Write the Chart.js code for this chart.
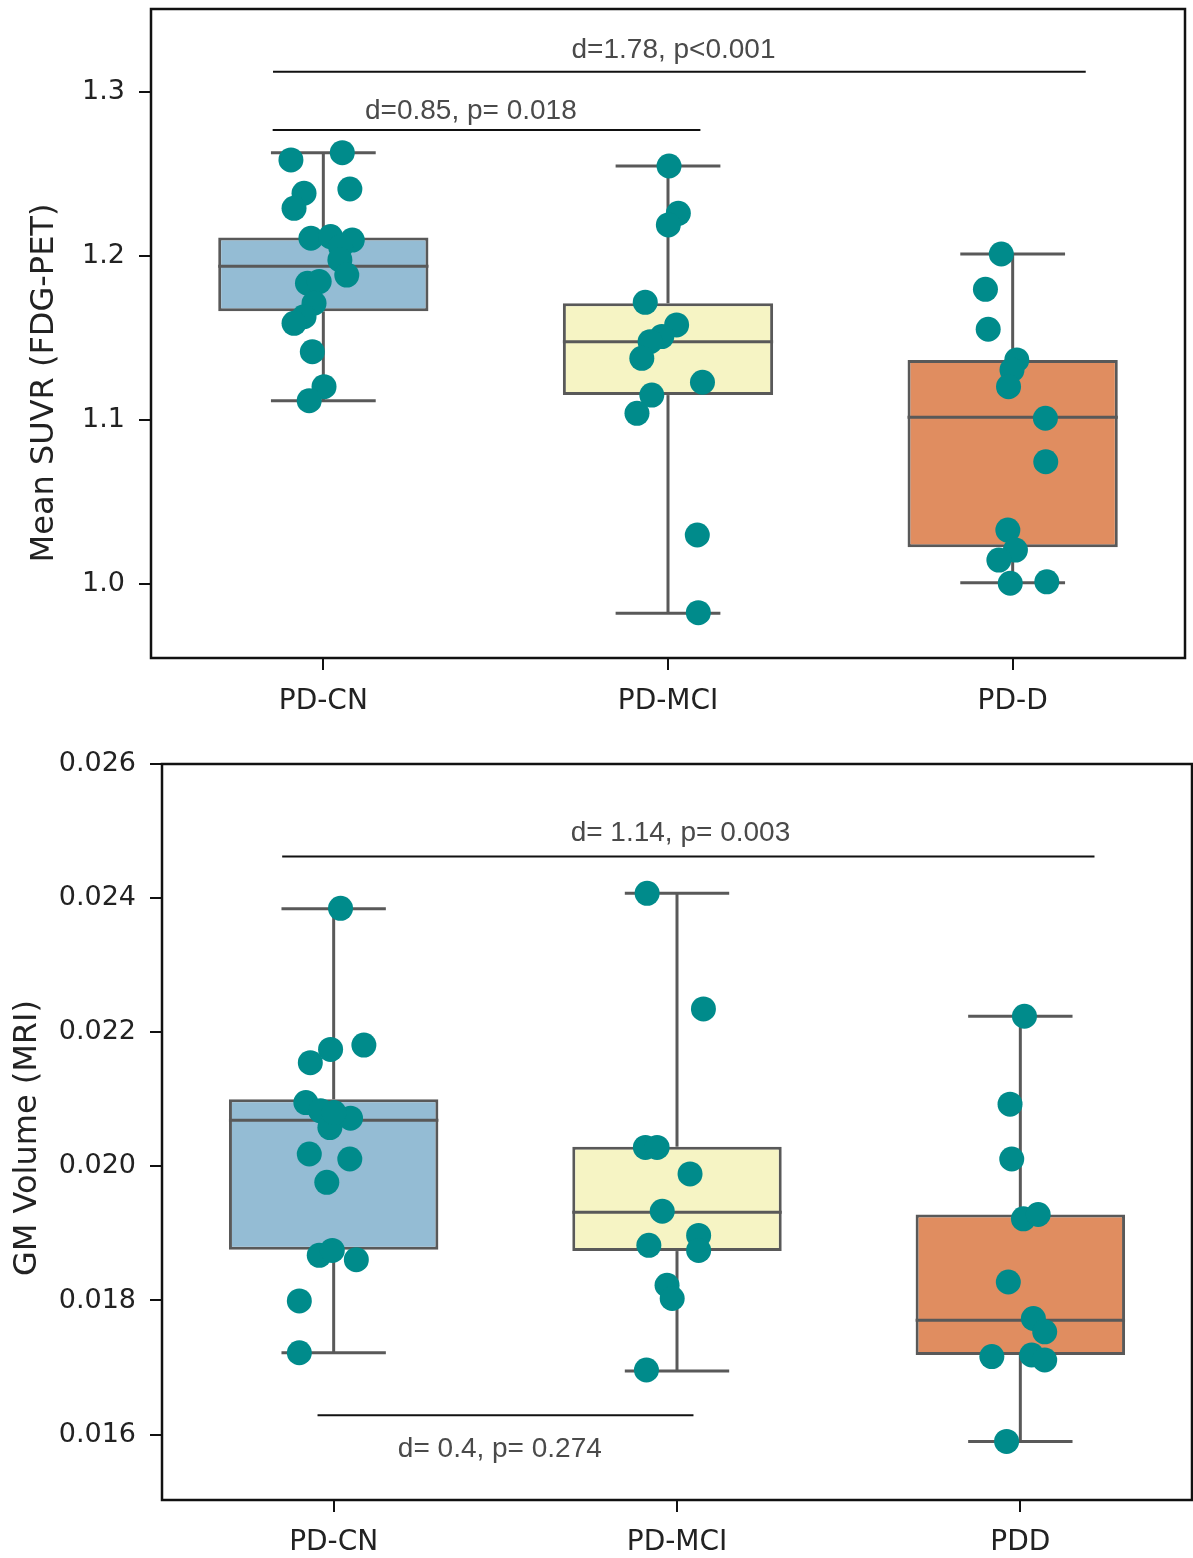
<!DOCTYPE html>
<html><head><meta charset="utf-8">
<script src="https://cdn.jsdelivr.net/npm/chart.js@4.4.1/dist/chart.umd.min.js"></script>
<style>
html,body{margin:0;padding:0;background:#fff;}
#c1{position:absolute;left:0;top:0;}
#c2{position:absolute;left:0;top:730px;}
</style></head><body>
<canvas id="c1" width="1193" height="730"></canvas>
<canvas id="c2" width="1193" height="828"></canvas>
<script>
// ---------- Top panel data (Mean SUVR, FDG-PET) ----------
const fdgGroups = ['PD-CN', 'PD-MCI', 'PD-D'];
const fdgTicks = [1.0, 1.1, 1.2, 1.3];
const fdgTickLabels = ['1.0', '1.1', '1.2', '1.3'];
const fdgLow = [1.1118, 0.9824, 1.0010];
const fdgQ1 = [1.1663, 1.1153, 1.0226];
const fdgMedian = [1.1937, 1.1478, 1.1018];
const fdgQ3 = [1.2113, 1.1712, 1.1367];
const fdgHigh = [1.2628, 1.2548, 1.2012];
const fdgCN = [1.2585, 1.2629, 1.2408, 1.2382, 1.2290, 1.2108, 1.2118, 1.2097, 1.2057, 1.1976, 1.1884, 1.1834, 1.1844, 1.1712, 1.1630, 1.1590, 1.1417, 1.1204, 1.1119];
const fdgCNJitter = [-0.094, 0.055, 0.077, -0.056, -0.085, -0.036, 0.021, 0.084, 0.050, 0.048, 0.068, -0.046, -0.012, -0.027, -0.056, -0.085, -0.032, 0.002, -0.041];
const fdgMCI = [1.2548, 1.2260, 1.2189, 1.1718, 1.1580, 1.1509, 1.1478, 1.1377, 1.1231, 1.1153, 1.1042, 1.0301, 0.9828];
const fdgMCIJitter = [0.003, 0.030, 0.001, -0.066, 0.025, -0.018, -0.052, -0.076, 0.100, -0.047, -0.090, 0.085, 0.088];
const fdgD = [1.2012, 1.1797, 1.1554, 1.1367, 1.1306, 1.1204, 1.1012, 1.0747, 1.0331, 1.0209, 1.0148, 1.0007, 1.0016];
const fdgDJitter = [-0.033, -0.079, -0.071, 0.012, -0.002, -0.012, 0.095, 0.096, -0.014, 0.008, -0.040, -0.007, 0.099];
const fdgBracketText = ['d=1.78, p<0.001', 'd=0.85, p= 0.018'];
const fdgBracketFrom = [-0.146, -0.147];
const fdgBracketTo = [2.212, 1.094];
const fdgBracketLevel = [1.3122, 1.2767];
const fdgTextX = [1.016, 0.428];
const fdgTextLevel = [1.3204, 1.2837];

// ---------- Bottom panel data (GM Volume, MRI) ----------
const gmGroups = ['PD-CN', 'PD-MCI', 'PDD'];
const gmTicks = [0.016, 0.018, 0.020, 0.022, 0.024, 0.026];
const gmTickLabels = ['0.016', '0.018', '0.020', '0.022', '0.024', '0.026'];
const gmLow = [0.017221, 0.016950, 0.015899];
const gmQ1 = [0.018758, 0.018737, 0.017187];
const gmMedian = [0.020689, 0.019316, 0.017707];
const gmQ3 = [0.021000, 0.020293, 0.019282];
const gmHigh = [0.023840, 0.024071, 0.022239];
const gmCN = [0.023848, 0.021744, 0.021546, 0.021808, 0.020951, 0.020828, 0.020719, 0.020579, 0.020184, 0.020110, 0.019762, 0.018673, 0.018747, 0.018609, 0.017994, 0.017221, 0.020802];
const gmCNJitter = [0.020, -0.009, -0.068, 0.088, -0.081, -0.038, 0.049, -0.011, -0.071, 0.047, -0.020, -0.042, -0.004, 0.066, -0.100, -0.100, 0.001];
const gmMCI = [0.024071, 0.022348, 0.020282, 0.020282, 0.019887, 0.019331, 0.018822, 0.018970, 0.018747, 0.018227, 0.018030, 0.016964];
const gmMCIJitter = [-0.087, 0.077, -0.092, -0.058, 0.038, -0.043, -0.082, 0.063, 0.063, -0.029, -0.014, -0.089];
const gmD = [0.022239, 0.020927, 0.020110, 0.019218, 0.019282, 0.018276, 0.017732, 0.017533, 0.017163, 0.017187, 0.017113, 0.015899];
const gmDJitter = [0.012, -0.030, -0.025, 0.009, 0.052, -0.035, 0.038, 0.071, -0.083, 0.033, 0.071, -0.040];
const gmBracketText = ['d= 1.14, p= 0.003', 'd= 0.4, p= 0.274'];
const gmBracketFrom = [-0.150, -0.047];
const gmBracketTo = [2.216, 1.048];
const gmBracketLevel = [0.02462, 0.016288];
const gmTextX = [1.010, 0.484];
const gmTextLevel = [0.024854, 0.015671];

// ---------- Styles ----------
const BOX_COLORS = ['#94bcd4', '#f6f4c4', '#e08d60'];
const DOT = '#008b8b';
const EDGE = '#595959';
const BOX_W = 0.61;
const CAP_HALF = 0.152;

function buildChart(el, o) {
  const datasets = [];
  o.points.forEach((vals, g) => {
    datasets.push({
      type: 'scatter', order: 0,
      data: vals.map((v, k) => ({ x: g + o.jitter[g][k], y: v })),
      pointRadius: 12.5, pointHoverRadius: 12.5, backgroundColor: DOT, borderWidth: 0
    });
  });
  const seg = (x1, y1, x2, y2, color, w, order) => datasets.push({
    type: 'line', order: order,
    data: [{ x: x1, y: y1 }, { x: x2, y: y2 }],
    borderColor: color, borderWidth: w, pointRadius: 0, fill: false, tension: 0
  });
  o.brFrom.forEach((x1, k) => seg(x1, o.brLevel[k], o.brTo[k], o.brLevel[k], '#111', 2, 1));
  o.groups.forEach((name, g) => {
    seg(g, o.low[g], g, o.q1[g], EDGE, 3, 2);
    seg(g, o.q3[g], g, o.high[g], EDGE, 3, 2);
    seg(g - CAP_HALF, o.low[g], g + CAP_HALF, o.low[g], EDGE, 3, 2);
    seg(g - CAP_HALF, o.high[g], g + CAP_HALF, o.high[g], EDGE, 3, 2);
    seg(g - BOX_W / 2, o.median[g], g + BOX_W / 2, o.median[g], EDGE, 3, 2);
  });
  datasets.push({
    type: 'bar', order: 3,
    data: o.groups.map((n, g) => ({ x: g, y: [o.q1[g], o.q3[g]] })),
    backgroundColor: BOX_COLORS, borderColor: EDGE, borderWidth: 3, borderSkipped: false,
    barPercentage: BOX_W, categoryPercentage: 1
  });

  const deco = {
    id: 'deco',
    afterDatasetsDraw(chart) {
      const { ctx, chartArea: a } = chart;
      const xs = chart.scales.x, ys = chart.scales.y;
      ctx.save();
      ctx.strokeStyle = '#111';
      ctx.lineWidth = 2.5;
      ctx.strokeRect(a.left, a.top, a.right - a.left, a.bottom - a.top);
      ctx.fillStyle = '#4a4a4a';
      ctx.font = '28px "Liberation Sans", Arial, sans-serif';
      ctx.textAlign = 'center';
      ctx.textBaseline = 'alphabetic';
      o.brText.forEach((t, k) => {
        ctx.fillText(t, xs.getPixelForValue(o.textX[k]), ys.getPixelForValue(o.textLevel[k]));
      });
      ctx.translate(o.titleX, o.titleY);
      ctx.rotate(-Math.PI / 2);
      ctx.fillStyle = '#222';
      ctx.font = '32px "DejaVu Sans", sans-serif';
      ctx.textBaseline = 'middle';
      ctx.fillText(o.yTitle, 0, 0);
      ctx.restore();
    }
  };

  return new Chart(el, {
    type: 'bar',
    data: { datasets },
    options: {
      responsive: false, animation: false, devicePixelRatio: 1,
      layout: { autoPadding: false, padding: { top: o.padTop, right: o.padRight, left: 0, bottom: 0 } },
      plugins: { legend: { display: false }, tooltip: { enabled: false } },
      scales: {
        x: {
          type: 'linear', min: -0.5, max: 2.5, offset: false,
          afterBuildTicks: s => { s.ticks = o.groups.map((n, i) => ({ value: i })); },
          afterFit: s => { s.height = o.xH; s.paddingLeft = 0; s.paddingRight = 0; },
          ticks: { callback: (v, i) => o.groups[i], autoSkip: false, maxRotation: 0, padding: o.xPad,
                   color: '#222', font: { family: 'DejaVu Sans', size: 28 } },
          grid: { display: true, offset: false, drawOnChartArea: false, drawTicks: true, tickLength: 12, color: '#111', lineWidth: 2 },
          border: { display: false }
        },
        y: {
          type: 'linear', min: o.yMin, max: o.yMax,
          afterBuildTicks: s => { s.ticks = o.yTicks.map(v => ({ value: v })); },
          afterFit: s => { s.width = o.yW; s.paddingTop = 0; s.paddingBottom = 0; },
          ticks: { callback: (v, i) => o.yTickLabels[i], padding: 14,
                   color: '#222', font: { family: 'DejaVu Sans', size: 27 } },
          grid: { display: true, offset: false, drawOnChartArea: false, drawTicks: true, tickLength: 12, color: '#111', lineWidth: 2 },
          border: { display: false }
        }
      }
    },
    plugins: [deco]
  });
}

buildChart(document.getElementById('c1'), {
  groups: fdgGroups, low: fdgLow, q1: fdgQ1, median: fdgMedian, q3: fdgQ3, high: fdgHigh,
  points: [fdgCN, fdgMCI, fdgD], jitter: [fdgCNJitter, fdgMCIJitter, fdgDJitter],
  brText: fdgBracketText, brFrom: fdgBracketFrom, brTo: fdgBracketTo, brLevel: fdgBracketLevel,
  textX: fdgTextX, textLevel: fdgTextLevel,
  yTicks: fdgTicks, yTickLabels: fdgTickLabels, yMin: 0.9552, yMax: 1.3504,
  yTitle: 'Mean SUVR (FDG-PET)', titleX: 45, titleY: 383,
  padTop: 9, padRight: 8, yW: 151, xH: 72, xPad: 15
});

buildChart(document.getElementById('c2'), {
  groups: gmGroups, low: gmLow, q1: gmQ1, median: gmMedian, q3: gmQ3, high: gmHigh,
  points: [gmCN, gmMCI, gmD], jitter: [gmCNJitter, gmMCIJitter, gmDJitter],
  brText: gmBracketText, brFrom: gmBracketFrom, brTo: gmBracketTo, brLevel: gmBracketLevel,
  textX: gmTextX, textLevel: gmTextLevel,
  yTicks: gmTicks, yTickLabels: gmTickLabels, yMin: 0.015025, yMax: 0.026,
  yTitle: 'GM Volume (MRI)', titleX: 28, titleY: 408,
  padTop: 34, padRight: 1, yW: 162, xH: 58, xPad: 14
});
</script>
</body></html>
